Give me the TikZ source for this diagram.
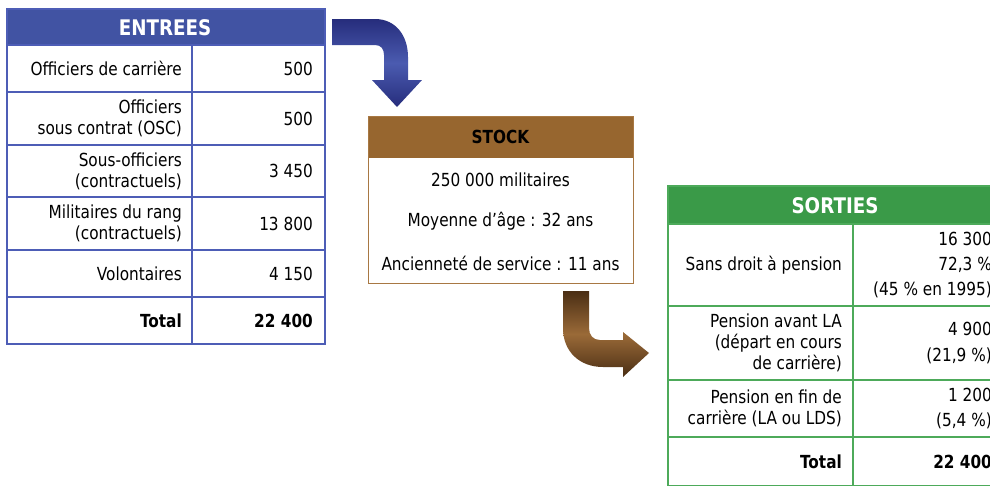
\documentclass[tikz,border=0pt]{standalone}
\usepackage{fontspec}
\setmainfont{DejaVu Sans}[FakeStretch=0.85]
\usetikzlibrary{positioning}
\definecolor{entreeblue}{HTML}{4153A3}
\definecolor{entreeline}{HTML}{4D5DB6}
\definecolor{stockbrown}{HTML}{97662F}
\definecolor{stockline}{HTML}{A87843}
\definecolor{sortiegreen}{HTML}{3A9A48}
\definecolor{sortieline}{HTML}{4DAA5A}
\definecolor{bluearrowdark}{HTML}{262D7C}
\definecolor{bluearrowlight}{HTML}{4B5BB0}
\definecolor{brownarrowdark}{HTML}{4A2E14}
\definecolor{brownarrowlight}{HTML}{9A6A38}

\begin{document}
\begin{tikzpicture}[x=1pt,y=-1pt]
  \tikzset{cell/.style = {inner sep=0pt,font=\fontsize{18}{21}\selectfont}}
  \tikzset{lab/.style = {cell,anchor=east,align=right}}
  \tikzset{head/.style = {cell,font=\fontsize{18}{21}\selectfont\bfseries}}
  \tikzset{bighead/.style = {cell,text=white,font=\fontsize{21.5}{24}\selectfont\bfseries}}
  \tikzset{grid/.style = {line width=1.1pt}}
  \useasboundingbox (0,0) rectangle (990,485);
  \clip (0,0) rectangle (990,485);

  % entrees
  \fill[entreeblue] (7,9) rectangle (325,45);
  \draw[grid,entreeline] (7,9) rectangle (325,344);
  \draw[grid,entreeline] (192,45) -- (192,344);
  \foreach \y in {45,92,145,197,250,297}
    \draw[grid,entreeline] (7,\y) -- (325,\y);
  \node[bighead] (entrees) at (165,27.5) {ENTREES};
  \foreach \y/\lab/\val [count=\i] in {68.5/Officiers de carrière/500,
      118.5/{Officiers\\sous contrat (OSC)}/500,
      171/{Sous-officiers\\(contractuels)}/3 450,
      223.5/{Militaires du rang\\(contractuels)}/13 800,
      273.5/Volontaires/4 150,
      320.5/\textbf{Total}/\textbf{22 400}}
  {
    \node[lab] (e\i) at (182,\y) {\lab};
    \node[lab] (ev\i) at (313,\y) {\val};
  }

  % stock
  \fill[stockbrown] (368,116) rectangle (633,158);
  \draw[stockline,line width=1pt] (368,116) rectangle (633,283);
  \node[head] (stock) at (500.5,137) {STOCK};
  \node[cell] (s1) at (500.5,180) {250 000 militaires};
  \node[cell] (s2) at (500.5,221) {Moyenne d’âge : 32 ans};
  \node[cell] (s3) at (500.5,263) {Ancienneté de service : 11 ans};

  % sorties
  \fill[sortiegreen] (668,186) rectangle (1002,224);
  \draw[grid,sortieline] (668,186) rectangle (1002,486);
  \draw[grid,sortieline] (853,224) -- (853,486);
  \foreach \y in {224,306,380,437}
    \draw[grid,sortieline] (668,\y) -- (1002,\y);
  \node[bighead] (sorties) at (835,205.5) {SORTIES};
  \foreach \y/\lab/\val [count=\i] in {265/Sans droit à pension/{16 300\\[4pt]72,3 \%\\[4pt](45 \% en 1995)},
      343/{Pension avant LA\\(départ en cours\\de carrière)}/{4 900\\[5pt](21,9 \%)},
      408.5/{Pension en fin de\\carrière (LA ou LDS)}/{1 200\\[4pt](5,4 \%)},
      462/\textbf{Total}/\textbf{22 400}}
  {
    \node[lab] (o\i) at (842,\y) {\lab};
    \node[lab] (ov\i) at (992,\y) {\val};
  }

  % fleches
  \shade[top color=bluearrowdark,bottom color=bluearrowdark,middle color=bluearrowlight]
    (332,19) -- (375,19) .. controls (396,19) and (408,36) .. (408,57)
    -- (408,80) -- (422,80) -- (397,107) -- (372,80) -- (384,80) -- (384,55)
    .. controls (384,49) and (381,45) .. (375,45) -- (332,45) -- cycle;
  \shade[top color=brownarrowdark,bottom color=brownarrowdark,middle color=brownarrowlight]
    (563,291) -- (589,291) -- (589,328) .. controls (589,335) and (593,340) .. (600,340)
    -- (623,340) -- (623,332) -- (649,353) -- (623,377) -- (623,367) -- (603,367)
    .. controls (580,367) and (563,352) .. (563,328) -- cycle;
\end{tikzpicture}
\end{document}
